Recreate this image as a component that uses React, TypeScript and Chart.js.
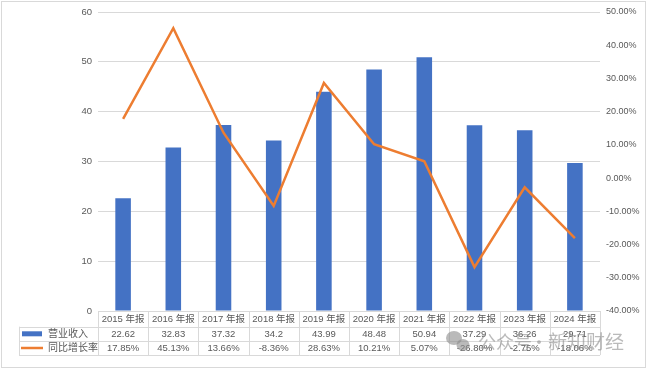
import React, { useEffect, useRef } from "react";
import { Chart, registerables } from "chart.js";
Chart.register(...registerables);

const categories = ["2015 年报", "2016 年报", "2017 年报", "2018 年报", "2019 年报", "2020 年报", "2021 年报", "2022 年报", "2023 年报", "2024 年报"];
const revenue = [22.62, 32.83, 37.32, 34.2, 43.99, 48.48, 50.94, 37.29, 36.26, 29.71];
const growth = [17.85, 45.13, 13.66, -8.36, 28.63, 10.21, 5.07, -26.8, -2.75, -18.06];
const revenueLabel = "营业收入";
const growthLabel = "同比增长率";
const watermarkA = "公众号";
const watermarkDot = "·";
const watermarkB = "新知财经";

const BAR = "#4472C4";
const LINE = "#ED7D31";
const GRID = "#D9D9D9";
const TEXT = "#595959";
const FONT_FAMILY = "'Liberation Sans', 'Noto Sans CJK SC', sans-serif";

const tablePlugin = {
  id: "dataTable",
  afterDraw(chart: any) {
    const ctx = chart.ctx as CanvasRenderingContext2D;
    const area = chart.chartArea;
    const n = categories.length;
    const colW = (area.right - area.left) / n;
    const y0 = area.bottom;
    const y1 = y0 + 15.7;
    const y2 = y1 + 14.2;
    const y3 = y2 + 14.2;
    const legendLeft = 19;
    ctx.save();
    ctx.strokeStyle = GRID;
    ctx.lineWidth = 1;
    const hline = (x0: number, x1: number, y: number) => {
      ctx.beginPath();
      ctx.moveTo(x0, Math.round(y) + 0.5);
      ctx.lineTo(x1, Math.round(y) + 0.5);
      ctx.stroke();
    };
    const vline = (x: number, ya: number, yb: number) => {
      ctx.beginPath();
      ctx.moveTo(Math.round(x) + 0.5, ya);
      ctx.lineTo(Math.round(x) + 0.5, yb);
      ctx.stroke();
    };
    hline(area.left, area.right, y0);
    hline(legendLeft, area.right, y1);
    hline(legendLeft, area.right, y2);
    hline(legendLeft, area.right, y3);
    for (let i = 0; i <= n; i++) vline(area.left + i * colW, y0, y3);
    vline(legendLeft, y1, y3);

    ctx.fillStyle = TEXT;
    ctx.font = "9.5px " + FONT_FAMILY;
    ctx.textAlign = "center";
    ctx.textBaseline = "middle";
    for (let i = 0; i < n; i++) {
      const cx = chart.scales.x.getPixelForValue(i);
      ctx.fillText(categories[i], cx, (y0 + y1) / 2 + 0.5);
      ctx.fillText(String(revenue[i]), cx, (y1 + y2) / 2 + 0.5);
      ctx.fillText(growth[i].toFixed(2) + "%", cx, (y2 + y3) / 2 + 0.5);
    }
    // legend keys
    ctx.fillStyle = BAR;
    ctx.fillRect(22, (y1 + y2) / 2 - 2.5, 20, 5);
    ctx.strokeStyle = LINE;
    ctx.lineWidth = 2.5;
    ctx.beginPath();
    ctx.moveTo(21, (y2 + y3) / 2);
    ctx.lineTo(43, (y2 + y3) / 2);
    ctx.stroke();
    ctx.fillStyle = TEXT;
    ctx.font = "10px " + FONT_FAMILY;
    ctx.textAlign = "left";
    ctx.fillText(revenueLabel, 48, (y1 + y2) / 2 + 0.5);
    ctx.fillText(growthLabel, 48, (y2 + y3) / 2 + 0.5);

    // outer frame
    ctx.strokeStyle = GRID;
    ctx.lineWidth = 1;
    ctx.strokeRect(1.5, 1.5, 644, 366);

    // watermark
    ctx.globalAlpha = 0.6;
    ctx.fillStyle = "#8c8c8c";
    ctx.beginPath();
    ctx.ellipse(454, 338, 8, 7, 0, 0, Math.PI * 2);
    ctx.fill();
    ctx.beginPath();
    ctx.ellipse(463, 345, 6.5, 6, 0, 0, Math.PI * 2);
    ctx.fill();
    ctx.font = "18px 'Noto Sans CJK SC', sans-serif";
    ctx.textAlign = "left";
    ctx.textBaseline = "middle";
    ctx.fillText(watermarkA, 478, 342);
    ctx.fillText(watermarkDot, 530, 342);
    ctx.font = "19px 'Noto Sans CJK SC', sans-serif";
    ctx.fillText(watermarkB, 548, 342);
    ctx.restore();
  },
};

const bgPlugin = {
  id: "bg",
  beforeDraw(chart: any) {
    const ctx = chart.ctx;
    ctx.save();
    ctx.fillStyle = "#ffffff";
    ctx.fillRect(0, 0, chart.width, chart.height);
    ctx.restore();
  },
};

export default function App() {
  const ref = useRef<HTMLCanvasElement | null>(null);
  useEffect(() => {
    document.body.style.margin = "0";
    const canvas = ref.current;
    if (!canvas) return;
    const chart = new Chart(canvas, {
      type: "bar",
      data: {
        labels: categories,
        datasets: [
          {
            type: "line",
            label: growthLabel,
            data: growth,
            yAxisID: "y1",
            borderColor: LINE,
            backgroundColor: LINE,
            borderWidth: 2.5,
            pointRadius: 0,
            tension: 0,
            order: 0,
          } as any,
          {
            type: "bar",
            label: revenueLabel,
            data: revenue,
            yAxisID: "y",
            backgroundColor: BAR,
            categoryPercentage: 1,
            barPercentage: 0.31,
            order: 1,
          },
        ],
      },
      options: {
        responsive: false,
        animation: false,
        devicePixelRatio: 1,
        layout: { padding: { left: 0, right: 0, top: 12, bottom: 58 } },
        plugins: { legend: { display: false }, tooltip: { enabled: false } },
        scales: {
          x: { display: false, offset: true },
          y: {
            position: "left",
            min: 0,
            max: 60,
            ticks: { stepSize: 10, color: TEXT, font: { size: 9.5, family: FONT_FAMILY }, padding: 6 },
            grid: { color: GRID, drawTicks: false },
            border: { display: false },
            afterFit: (s: any) => {
              s.width = 98;
            },
          },
          y1: {
            position: "right",
            min: -40,
            max: 50,
            ticks: {
              stepSize: 10,
              color: TEXT,
              font: { size: 9, family: FONT_FAMILY },
              padding: 6,
              callback: (v: any) => Number(v).toFixed(2) + "%",
            },
            grid: { display: false, drawTicks: false },
            border: { display: false },
            afterFit: (s: any) => {
              s.width = 47;
            },
          },
        },
      },
      plugins: [bgPlugin, tablePlugin],
    });
    return () => chart.destroy();
  }, []);
  return (
    <div style={{ position: "absolute", left: 0, top: 0, width: 647, height: 369 }}>
      <canvas ref={ref} width={647} height={369} style={{ width: 647, height: 369 }} />
    </div>
  );
}
